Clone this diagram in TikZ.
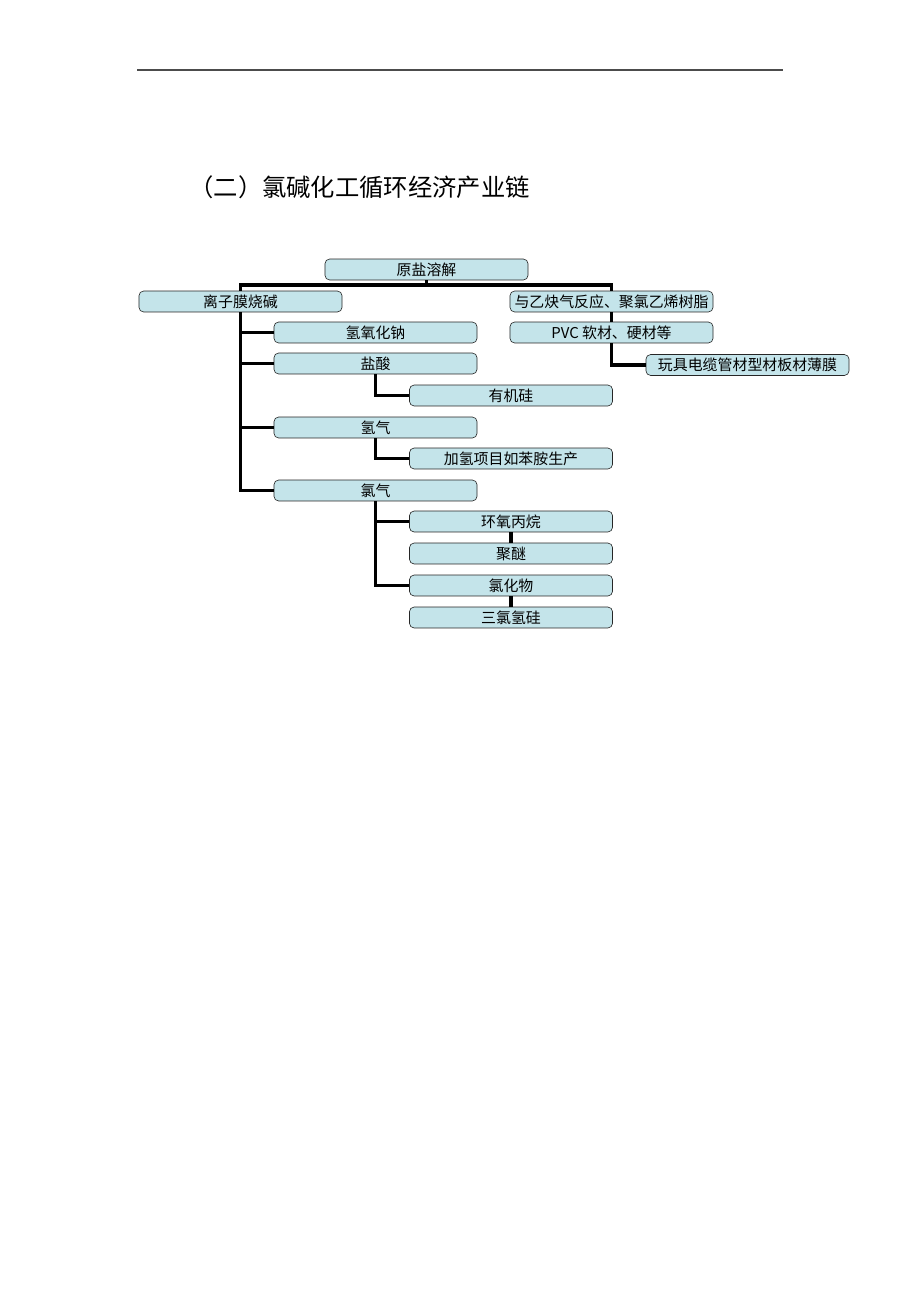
\documentclass[tikz,border=0pt]{standalone}
\usepackage{fontspec}
\setmainfont{Noto Sans CJK SC}
\usepackage{xcolor}
\usepackage{tikz}
\usetikzlibrary{calc}
\usetikzlibrary{positioning}
\definecolor{boxblue}{RGB}{196,228,234}
\tikzstyle{box} = [rectangle, rounded corners=3pt, draw=black!85, thin, fill=boxblue, minimum width=132pt, minimum height=13.6pt, inner sep=0pt, font=\fontsize{9.7pt}{10pt}\selectfont]
\tikzstyle{link} = [-, draw=black, line width=2pt]

\begin{document}
\begin{tikzpicture}[x=0.65pt, y=-0.65pt]
\useasboundingbox (0,0) rectangle (920,1302);
\draw [draw=black!70, line width=1pt] (137,70) -- (783,70);
\node [draw=none, anchor=west, font=\fontsize{15.8pt}{18pt}\selectfont] (title) at (184,187) {（二）氯碱化工循环经济产业链};
\node [box] (yan) at (426.5,269.5) {原盐溶解};
\node [box] (lizi) at (240.5,301.5) {离子膜烧碱};
\node [box] (yique) at (611.5,301.5) {与乙炔气反应、聚氯乙烯树脂};
\node [box] (naoh) at (375.5,332.5) {氢氧化钠};
\node [box] (pvc) at (611.5,332.5) {PVC 软材、硬材等};
\node [box] (yansuan) at (375.5,363.5) {盐酸};
\node [box] (wanju) at (747.5,365) {玩具电缆管材型材板材薄膜};
\node [box] (guixi) at (511,395.5) {有机硅};
\node [box] (qingqi) at (375.5,427.5) {氢气};
\node [box] (jiaqing) at (511,458.5) {加氢项目如苯胺生产};
\node [box] (lvqi) at (375.5,490.5) {氯气};
\node [box] (huanyang) at (511,521.5) {环氧丙烷};
\node [box] (jumi) at (511,553.5) {聚醚};
\node [box] (lvhuawu) at (511,585.5) {氯化物};
\node [box] (sanlv) at (511,617.5) {三氯氢硅};
\coordinate (top) at (426.5,285);
\draw [link] (yan.south) -- (top);
\draw [link] (lizi.north) |- (top) -| (yique.north);
\draw [link] (lizi.south) |- (naoh.west);
\draw [link] (lizi.south) |- (yansuan.west);
\draw [link] (lizi.south) |- (qingqi.west);
\draw [link] (lizi.south) |- (lvqi.west);
\draw [link] (yansuan.south) |- (guixi.west);
\draw [link] (qingqi.south) |- (jiaqing.west);
\draw [link] (lvqi.south) |- (huanyang.west);
\draw [link] (lvqi.south) |- (lvhuawu.west);
\draw [link] (huanyang) -- (jumi);
\draw [link] (lvhuawu) -- (sanlv);
\draw [link] (yique) -- (pvc);
\draw [link] (pvc.south) |- (wanju.west);
\end{tikzpicture}
\end{document}
